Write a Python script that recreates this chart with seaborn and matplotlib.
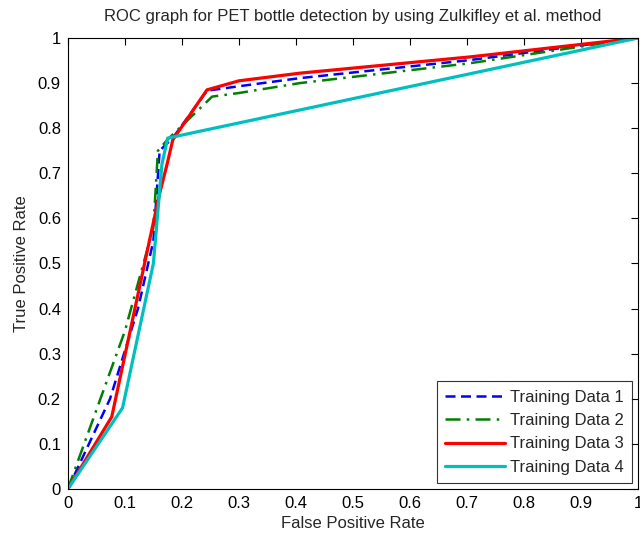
import numpy as np
import pandas as pd
import matplotlib
matplotlib.use("Agg")
import matplotlib.pyplot as plt
import seaborn as sns

# Data
td1_fpr = [0.0, 0.074, 0.123, 0.150, 0.161, 0.185, 0.244, 0.300, 0.407, 0.705, 1.0]
td1_tpr = [0.0, 0.200, 0.400, 0.550, 0.750, 0.780, 0.883, 0.893, 0.911, 0.951, 1.0]
td2_fpr = [0.0, 0.100, 0.150, 0.158, 0.175, 0.253, 0.300, 0.407, 0.705, 1.0]
td2_tpr = [0.0, 0.350, 0.580, 0.750, 0.775, 0.870, 0.878, 0.900, 0.944, 1.0]
td3_fpr = [0.0, 0.077, 0.160, 0.174, 0.184, 0.244, 0.300, 0.407, 0.705, 1.0]
td3_tpr = [0.0, 0.160, 0.650, 0.720, 0.774, 0.885, 0.905, 0.922, 0.958, 1.0]
td4_fpr = [0.0, 0.096, 0.150, 0.165, 0.175, 1.0]
td4_tpr = [0.0, 0.180, 0.500, 0.720, 0.778, 1.0]

series = ["Training Data 1", "Training Data 2", "Training Data 3", "Training Data 4"]
xs = [td1_fpr, td2_fpr, td3_fpr, td4_fpr]
ys = [td1_tpr, td2_tpr, td3_tpr, td4_tpr]
tick_labels = ["0", "0.1", "0.2", "0.3", "0.4", "0.5", "0.6", "0.7", "0.8", "0.9", "1"]

rows = []
for name, x, y in zip(series, xs, ys):
    for i, (a, b) in enumerate(zip(x, y)):
        rows.append({"series": name, "order": i, "FPR": a, "TPR": b})
df = pd.DataFrame(rows)

sns.set_style("white")
plt.rcParams["font.family"] = ["Liberation Sans Narrow", "Liberation Sans", "DejaVu Sans"]

fig = plt.figure(figsize=(6.4, 5.35), dpi=100)
ax = fig.add_axes([0.106, 0.086, 0.891, 0.843])

colors = {"Training Data 1": "#0000ff", "Training Data 2": "#008000",
          "Training Data 3": "#ff0000", "Training Data 4": "#00bfbf"}
styles = {"Training Data 1": (0, (4, 2.2)), "Training Data 2": (0, (6, 2.5, 1, 2.5)),
          "Training Data 3": "-", "Training Data 4": "-"}
widths = {"Training Data 1": 1.8, "Training Data 2": 1.8,
          "Training Data 3": 2.3, "Training Data 4": 2.3}

for name in series:
    sub = df[df["series"] == name]
    sns.lineplot(data=sub, x="FPR", y="TPR", sort=False, ax=ax, color=colors[name],
                 linestyle=styles[name], linewidth=widths[name], label=name,
                 estimator=None)

ax.set_xlim(0, 1)
ax.set_ylim(0, 1)
ax.set_xticks(np.arange(0, 1.01, 0.1))
ax.set_yticks(np.arange(0, 1.01, 0.1))
ax.set_xticklabels(tick_labels)
ax.set_yticklabels(tick_labels)
ax.tick_params(direction="in", length=5, width=0.8, top=True, right=True,
               labelsize=12, colors="black", pad=5)
for s in ax.spines.values():
    s.set_visible(True)
    s.set_color("black")
    s.set_linewidth(0.8)

ax.set_xlabel("False Positive Rate", fontsize=12, labelpad=4)
ax.set_ylabel("True Positive Rate", fontsize=12, labelpad=6)
ax.set_title("ROC graph for PET bottle detection by using Zulkifley et al. method",
             fontsize=12, pad=12)

leg = ax.legend(loc="lower right", fontsize=12, frameon=True, fancybox=False,
                edgecolor="black", handlelength=3.6, borderaxespad=0.35,
                labelspacing=0.5, handletextpad=0.3, borderpad=0.5)
leg.get_frame().set_linewidth(0.8)

fig.savefig("out.png", dpi=100)
